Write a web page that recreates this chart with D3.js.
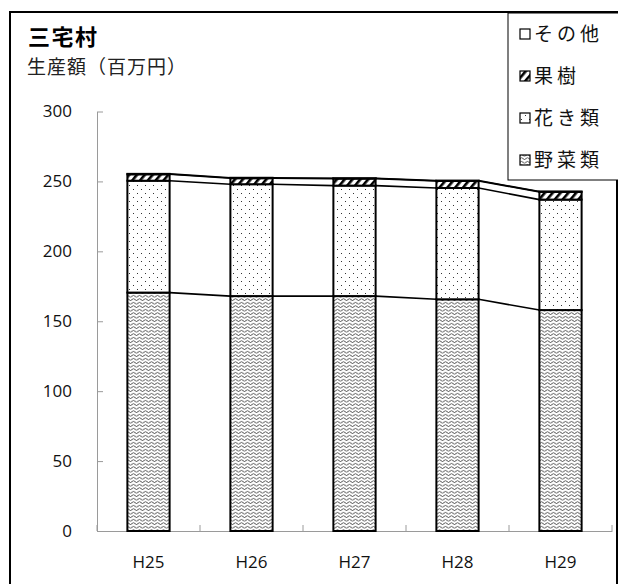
<!DOCTYPE html>
<html><head><meta charset="utf-8">
<script src="https://cdn.jsdelivr.net/npm/d3@7"></script>
<style>body{margin:0;background:#fff}svg{display:block}</style>
</head><body>
<svg id="c" width="618" height="584"></svg>
<script>
const categories = ["H25","H26","H27","H28","H29"];
const seriesNames = ["野菜類","花き類","果樹","その他"];
const yasai = [170.5, 168, 168, 165.7, 158];
const kaki  = [80, 80, 79, 79.6, 79];
const kaju  = [4.6, 4.3, 5, 5, 5.5];
const sonota = [0.3, 0.3, 0.3, 0.3, 0.3];
const yTicks = [0,50,100,150,200,250,300];
const title = "三宅村";
const unitLabel = "生産額（百万円）";

const svg = d3.select("#c");
const defs = svg.append("defs");
// wave pattern
const pw = defs.append("pattern").attr("id","pWave").attr("patternUnits","userSpaceOnUse").attr("width",6).attr("height",3.5);
pw.append("rect").attr("width",6).attr("height",3.5).attr("fill","#fff");
pw.append("path").attr("d","M0,2.2 Q1.5,0.4 3,2.2 T6,2.2").attr("fill","none").attr("stroke","#222").attr("stroke-width",0.85);
// dots
const pd = defs.append("pattern").attr("id","pDots").attr("patternUnits","userSpaceOnUse").attr("width",8).attr("height",8);
pd.append("rect").attr("width",8).attr("height",8).attr("fill","#fff");
pd.append("rect").attr("x",1).attr("y",1).attr("width",1).attr("height",1).attr("fill","#333");
pd.append("rect").attr("x",5).attr("y",5).attr("width",1).attr("height",1).attr("fill","#333");
// hatch
const ph = defs.append("pattern").attr("id","pHatch").attr("patternUnits","userSpaceOnUse").attr("width",6).attr("height",6).attr("patternTransform","rotate(40)");
ph.append("rect").attr("width",6).attr("height",6).attr("fill","#fff");
ph.append("rect").attr("x",0).attr("y",0).attr("width",2.6).attr("height",6).attr("fill","#000");

const fills = ["url(#pWave)","url(#pDots)","url(#pHatch)","#fff"];
const values = [yasai,kaki,kaju,sonota];

// frame
svg.append("rect").attr("x",10).attr("y",12).attr("width",607).attr("height",600)
  .attr("fill","none").attr("stroke","#000").attr("stroke-width",2);

const x = d3.scaleBand().domain(categories).range([97,612]).paddingInner(0.59).paddingOuter(0.295);
const y = d3.scaleLinear().domain([0,300]).range([531,111.5]);

// y axis
const ya = svg.append("g").attr("transform","translate(97,0)")
  .call(d3.axisLeft(y).tickValues(yTicks).tickSizeInner(-6).tickSizeOuter(0).tickPadding(25));
ya.select(".domain").attr("stroke","#9a9a9a");
ya.selectAll(".tick line").attr("stroke","#9a9a9a");
ya.selectAll("text").attr("font-family","'Open Sans',sans-serif").attr("font-size",17).attr("fill","#111");

// x axis
const xa = svg.append("g").attr("transform","translate(0,531)")
  .call(d3.axisBottom(x).tickSize(0).tickPadding(25));
xa.select(".domain").attr("stroke","#9a9a9a");
xa.selectAll("text").attr("font-family","'Open Sans',sans-serif").attr("font-size",17).attr("fill","#111");
const gap = (x.step()-x.bandwidth())/2;
const bounds = categories.map(c=>x(c)-gap).concat([x(categories[categories.length-1])+x.bandwidth()+gap]);
xa.selectAll(".bnd").data(bounds).join("line").attr("class","bnd")
  .attr("x1",d=>d).attr("x2",d=>d).attr("y1",0).attr("y2",-6).attr("stroke","#9a9a9a");

// stacked
const rows = categories.map((c,i)=>{const o={cat:c}; seriesNames.forEach((s,k)=>o[s]=values[k][i]); return o;});
const stack = d3.stack().keys(seriesNames)(rows);

// connector lines
stack.forEach(layer=>{
  for(let i=0;i<categories.length-1;i++){
    svg.append("line")
      .attr("x1",x(categories[i])+x.bandwidth()).attr("y1",y(layer[i][1]))
      .attr("x2",x(categories[i+1])).attr("y2",y(layer[i+1][1]))
      .attr("stroke","#000").attr("stroke-width",1.6);
  }
});

stack.forEach((layer,k)=>{
  svg.append("g").selectAll("rect").data(layer).join("rect")
    .attr("x",d=>x(d.data.cat)).attr("width",x.bandwidth())
    .attr("y",d=>y(d[1])).attr("height",d=>y(d[0])-y(d[1]))
    .attr("fill",fills[k]).attr("stroke","#000").attr("stroke-width",2);
});

// titles
svg.append("text").attr("x",28).attr("y",45).text(title)
  .attr("font-family","'Noto Sans CJK JP',sans-serif").attr("font-size",22).attr("font-weight","bold").attr("letter-spacing",1.5);
svg.append("text").attr("x",27).attr("y",74).text(unitLabel)
  .attr("font-family","'Noto Sans CJK JP',sans-serif").attr("font-size",19).attr("fill","#222").attr("letter-spacing",1);

// legend
svg.append("rect").attr("x",508).attr("y",13).attr("width",115).attr("height",167)
  .attr("fill","#fff").attr("stroke","#000").attr("stroke-width",1);
const legOrder = [3,2,1,0];
const lg = svg.append("g").selectAll("g").data(legOrder).join("g")
  .attr("transform",(d,i)=>`translate(520,${34+i*42})`);
lg.append("rect").attr("x",0).attr("y",-5).attr("width",10).attr("height",10)
  .attr("fill",d=>fills[d]).attr("stroke","#000").attr("stroke-width",1.2);
lg.append("text").attr("x",14).attr("y",7).text(d=>seriesNames[d])
  .attr("font-family","'Noto Sans CJK JP',sans-serif").attr("font-size",19).attr("letter-spacing",4).attr("fill","#111");
</script>
</body></html>
